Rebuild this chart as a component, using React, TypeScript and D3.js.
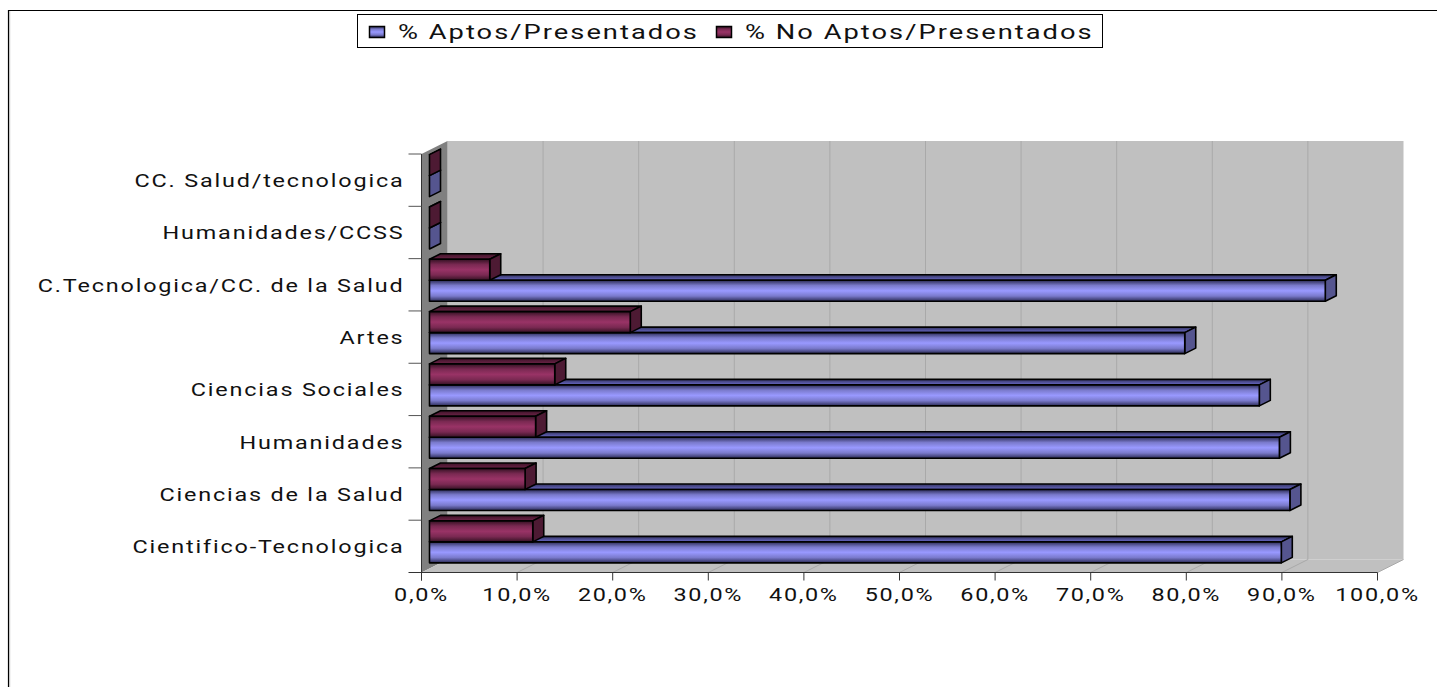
import React from "react";
import * as d3 from "d3";

const categories = ["Cientifico-Tecnologica","Ciencias de la Salud","Humanidades","Ciencias Sociales","Artes","C.Tecnologica/CC. de la Salud","Humanidades/CCSS","CC. Salud/tecnologica"];
const aptos = [89.1,90.0,88.9,86.8,79.0,93.7,0,0];
const noAptos = [10.8,10.0,11.1,13.1,21.0,6.3,0,0];
const ticks = d3.range(0,101,10);
const seriesNames = ["% Aptos/Presentados","% No Aptos/Presentados"];

const W=1437,H=687;
const x0=421.5,x1=1377.5,yB=572.5,yT=154;
const dx=26,dy=-13,bdx=11,bdy=-5.5,inset=8;
const FONT='Roboto, sans-serif';
const x=d3.scaleLinear().domain([0,100]).range([x0,x1]);
const y=d3.scaleLinear().domain([0,categories.length]).range([yB,yT]);
const vx=d3.scaleLinear().domain([0,100]).range([x0+inset,x1+inset]);

function Txt({x,y,size,sx,ls,anchor,children}:any){
  return <text transform={`translate(${x},${y}) scale(${sx},1)`} textAnchor={anchor} fontSize={size} letterSpacing={ls} fill="#111">{children}</text>;
}

function Bar({v,top,bot,id,side}:{v:number,top:number,bot:number,id:string,side:string}){
  const l=vx(0),r=vx(v);
  const pts=(a:number[][])=>a.map(p=>p.join(",")).join(" ");
  return <g stroke="#000" strokeWidth={1.6} strokeLinejoin="round">
    <polygon points={pts([[l,top],[l+bdx,top+bdy],[r+bdx,top+bdy],[r,top]])} fill={`url(#${id}T)`}/>
    <polygon points={pts([[r,top],[r+bdx,top+bdy],[r+bdx,bot+bdy],[r,bot]])} fill={side}/>
    <rect x={l} y={top} width={r-l} height={bot-top} fill={`url(#${id})`}/>
  </g>;
}

export default function App(){
  const blue=["#2b2b55","#7a7acc","#9999ff","#7a7acc","#2b2b55"];
  const mar=["#331122","#7a2952","#993366","#7a2952","#331122"];
  const stops=(c:string[])=>c.map((s,i)=><stop key={i} offset={i/4} stopColor={s}/>);
  const order=categories.map((_,i)=>i).reverse();
  return <svg width={W} height={H} style={{position:"absolute",left:0,top:0,display:"block"}} fontFamily={FONT}>
    <defs>
      <linearGradient id="b" x1="0" y1="0" x2="0" y2="1">{stops(blue)}</linearGradient>
      <linearGradient id="m" x1="0" y1="0" x2="0" y2="1">{stops(mar)}</linearGradient>
      <linearGradient id="bT" x1="0" y1="0" x2="0" y2="1"><stop offset="0" stopColor="#33335f"/><stop offset="1" stopColor="#6a6ac8"/></linearGradient>
      <linearGradient id="mT" x1="0" y1="0" x2="0" y2="1"><stop offset="0" stopColor="#3d1328"/><stop offset="1" stopColor="#6e2448"/></linearGradient>
    </defs>
    <rect width={W} height={H} fill="#fff"/>
    <line x1={8.5} x2={8.5} y1={10} y2={H} stroke="#000" strokeWidth={1.2}/>
    <line x1={9.7} x2={9.7} y1={11} y2={H} stroke="#c0c0c0" strokeWidth={1}/>
    <line x1={8} x2={W} y1={10.5} y2={10.5} stroke="#000" strokeWidth={1.2}/>

    <rect x={x0+dx} y={yT+dy} width={x1-x0} height={yB-yT} fill="#c0c0c0"/>
    <polygon points={`${x0},${yT} ${x0+dx},${yT+dy} ${x0+dx},${yB+dy} ${x0},${yB}`} fill="#808080"/>
    <polygon points={`${x0},${yB} ${x0+dx},${yB+dy} ${x1+dx},${yB+dy} ${x1},${yB}`} fill="#c0c0c0"/>
    {ticks.map(t=><g key={t} stroke="#a9a9a9" strokeWidth={1}>
      {t>0&&t<100&&<line x1={x(t)+dx} x2={x(t)+dx} y1={yT+dy} y2={yB+dy}/>}
      {t>0&&<line x1={x(t)} x2={x(t)+dx} y1={yB} y2={yB+dy}/>}
    </g>)}
    <line x1={x0} x2={x0} y1={yT} y2={yB+8} stroke="#333" strokeWidth={1}/>
    <line x1={x0-13} x2={x1} y1={yB} y2={yB} stroke="#333" strokeWidth={1}/>
    {ticks.map(t=><g key={t}>
      <line x1={x(t)} x2={x(t)} y1={yB} y2={yB+8} stroke="#333"/>
      <Txt x={x(t)} y={yB+28} size={18} sx={1.3} ls={1.3} anchor="middle">{d3.format(".1f")(t).replace(".",",")}%</Txt>
    </g>)}
    {categories.map((c,i)=><g key={c}>
      <line x1={x0-13} x2={x0} y1={y(i+1)} y2={y(i+1)} stroke="#555"/>
      <Txt x={x0-17} y={y(i+0.5)+7} size={18} sx={1.3} ls={1.4} anchor="end">{c}</Txt>
    </g>)}
    {order.map(i=>{const mid=y(i+0.5)-4.5;const h=21;
      return <g key={categories[i]}>
        <Bar v={aptos[i]} top={mid} bot={mid+h} id="b" side="#55558f"/>
        <Bar v={noAptos[i]} top={mid-h} bot={mid} id="m" side="#4d1a33"/>
      </g>;})}
    <g>
      <rect x={357.5} y={14.5} width={745} height={33} fill="#fff" stroke="#000" strokeWidth={1}/>
      {seriesNames.map((s,i)=>{const sx=[369,716][i],tx=[398,745][i];return <g key={s}>
        <rect x={sx+.5} y={26.5} width={15} height={11} fill={`url(#${i?"m":"b"})`} stroke="#000" strokeWidth={1.5}/>
        <Txt x={tx} y={39} size={21} sx={1.3} ls={1.55} anchor="start">{s}</Txt>
      </g>;})}
    </g>
  </svg>;
}
